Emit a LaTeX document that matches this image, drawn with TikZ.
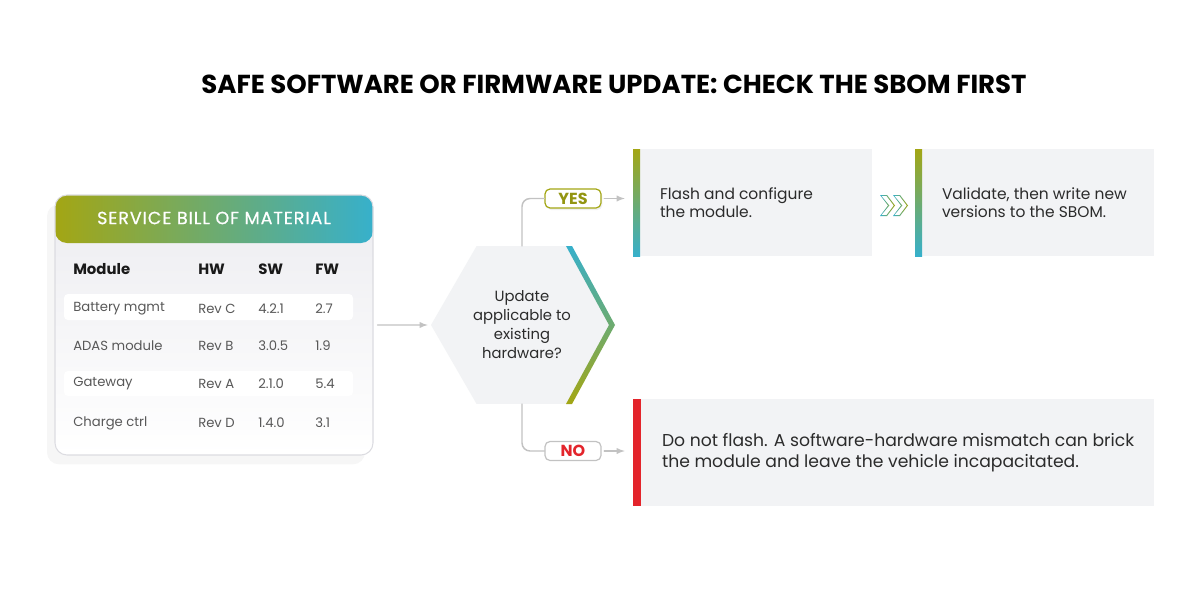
\documentclass[tikz,border=0pt]{standalone}
\usepackage{fontspec}
\setmainfont{Poppins}
\usetikzlibrary{%
  arrows,%
  positioning,% wg. " of "
  shapes.geometric,% wg. regular polygon
  shadows%
}
\definecolor{sbomolive}{HTML}{A3A614}
\definecolor{sbomteal}{HTML}{37B0CB}
\definecolor{flowred}{HTML}{E3242B}
\definecolor{panel}{HTML}{F2F3F5}
\definecolor{wirec}{HTML}{C2C2C2}
\definecolor{cardedge}{HTML}{DCDCE1}
\definecolor{cardtop}{HTML}{ECECF0}
\definecolor{rowtxt}{HTML}{585858}
\definecolor{ink}{HTML}{2B2B2B}

\begin{document}
\begin{tikzpicture}[
    x=0.75pt,y=-0.75pt,
    >=latex,line join=round,line cap=round,
    wire/.style={draw=wirec,line width=1.1pt},
    flow/.style={wire,->,shorten <=2pt,shorten >=6pt},
    card/.style={rectangle,rounded corners=9pt,draw=cardedge,line width=0.8pt,
        top color=cardtop,bottom color=white,
        minimum width=238.5pt,minimum height=195pt,inner sep=0pt,
        drop shadow={shadow xshift=-6pt,shadow yshift=-7pt,opacity=0.07},
        path picture={\shade[left color=sbomolive,right color=sbomteal]
            (path picture bounding box.north west) rectangle
            ([yshift=-36pt]path picture bounding box.north east);}},
    headtxt/.style={text=white,inner sep=0pt,
        font=\fontsize{13.2}{15}\selectfont\addfontfeature{LetterSpace=5,FakeBold=0.6}},
    colhead/.style={anchor=west,inner sep=0pt,text=black!90,
        font=\bfseries\fontsize{11.2}{13}\selectfont},
    cell/.style={anchor=west,inner sep=0pt,text=rowtxt,
        font=\fontsize{9.9}{12}\selectfont},
    hexa/.style={regular polygon,regular polygon sides=6,
        minimum size=136.5pt,inner sep=0pt,fill=panel,align=center,text=ink,
        font=\fontsize{11.1}{14.25}\selectfont},
    tag/.style={rectangle,rounded corners=3.75pt,line width=0.9pt,fill=white,
        minimum width=42pt,minimum height=14.25pt,inner sep=0pt,
        font=\bfseries\fontsize{12}{13}\selectfont},
    panelbox/.style={rectangle,fill=panel,minimum width=179.25pt,
        minimum height=80.25pt,inner sep=0pt,
        path picture={\shade[top color=sbomolive,bottom color=sbomteal]
            (path picture bounding box.north west) rectangle
            ([xshift=5.25pt]path picture bounding box.south west);}},
    stopbox/.style={rectangle,fill=panel,minimum width=390.75pt,
        minimum height=80.25pt,inner sep=0pt,
        path picture={\fill[flowred]
            (path picture bounding box.north west) rectangle
            ([xshift=6pt]path picture bounding box.south west);}},
    note/.style={align=left,inner sep=0pt,text=ink,
        font=\fontsize{11.6}{13.5}\selectfont},
    chev/.pic={\shade[left color=sbomteal,right color=sbomolive,even odd rule]
        (0,0) -- (7,0) -- (15,10.5) -- (7,21) -- (0,21) -- (8,10.5) -- cycle
        (1.3,0.9) -- (6.5,0.9) -- (13.8,10.5) -- (6.5,20.1) -- (1.3,20.1)
        -- (9.3,10.5) -- cycle;}
  ]

    \fill[white] (0,0) rectangle (1200,600);
    \useasboundingbox (0,0) rectangle (1200,600);

    \node (title) at (614,84)
        {\bfseries\fontsize{19.5}{22}\selectfont
         SAFE SOFTWARE OR FIRMWARE UPDATE: CHECK THE SBOM FIRST};

    % service bill of material
    \node [card] (sbom) at (214,325) {};
    \node [headtxt] (sbomhead) at (214,218) {SERVICE BILL OF MATERIAL};
    \fill[white,rounded corners=3pt] (64,294) rectangle (353,320);
    \fill[white,rounded corners=3pt] (64,371) rectangle (353,396);
    \node [colhead] (colmod) at (73,269)  {Module};
    \node [colhead] (colhw)  at (198,269) {HW};
    \node [colhead] (colsw)  at (258,269) {SW};
    \node [colhead] (colfw)  at (315,269) {FW};
    \foreach \y/\m/\h/\s/\f [count=\i] in {309/Battery mgmt/Rev C/4.2.1/2.7,
            346/ADAS module/Rev B/3.0.5/1.9,384/Gateway/Rev A/2.1.0/5.4,
            423/Charge ctrl/Rev D/1.4.0/3.1} {
        \node [cell] (mod\i) at (73,\y)  {\m};
        \node [cell] (hw\i)  at (198,\y) {\h};
        \node [cell] (sw\i)  at (258,\y) {\s};
        \node [cell] (fw\i)  at (315,\y) {\f};
    }

    % decision
    \node [hexa] (hex) at (522,325) {Update\\applicable to\\existing\\hardware?};
    \shade[top color=sbomteal,bottom color=sbomolive]
        (566,246) -- (572,246) -- (615,325) -- (572,404) -- (566,404)
        -- (609,325) -- cycle;
    \draw [flow,shorten <=3pt,shorten >=2.25pt] (sbom) -- (hex);

    \node [tag,draw=sbomolive,text=sbomolive!90!black,
        drop shadow={shadow xshift=1pt,shadow yshift=-1.5pt,opacity=0.12}]
        (yes) at (573,198.5) {YES};
    \node [tag,draw=wirec,text=flowred] (no) at (573,451) {NO};

    \node [panelbox] (flash) at (752.5,202.5) {};
    \node [panelbox] (writeback) at (1034.5,202.5) {};
    \node [stopbox] (nogo) at (893.5,452.5) {};

    \node [note,right=20.25pt of flash.west] (flashtxt)
        {Flash and configure\\the module.};
    \node [note,right=20.25pt of writeback.west] (writetxt)
        {Validate, then write new\\versions to the SBOM.};
    \node [note,right=21.75pt of nogo.west,
        font=\fontsize{12.9}{15.75}\selectfont] (nogotxt)
        {Do not flash. A software-hardware mismatch can brick\\
         the module and leave the vehicle incapacitated.};

    \pic at (880,195) {chev};
    \pic at (893,195) {chev};

    \begin{scope}[rounded corners=6pt]
        \draw [wire] (hex.north) |- (yes.west);
        \draw [wire] (hex.south) |- (no.west);
    \end{scope}
    \draw [flow] (yes.east) -- (yes.east -| flash.west);
    \draw [flow] (no.east)  -- (no.east -| nogo.west);
\end{tikzpicture}
\end{document}
